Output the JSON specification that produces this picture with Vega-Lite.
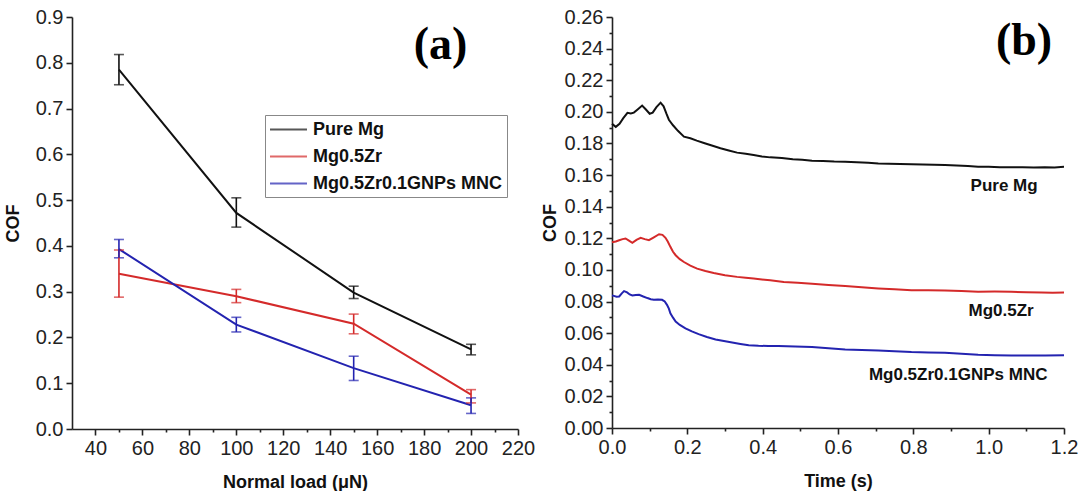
{
  "$schema": "https://vega.github.io/schema/vega-lite/v6.json",
  "background": "white",
  "padding": {"left": 4, "top": 7, "right": 0, "bottom": 0},
  "spacing": 6,
  "align": "none",
  "bounds": "full",
  "config": {
    "view": {"stroke": null},
    "axis": {
      "labelFont": "Liberation Sans", "labelFontSize": 20, "labelColor": "#222", "labelFlush": false,
      "titleFont": "Liberation Sans", "titleFontSize": 18, "titleFontWeight": "bold", "titleColor": "#111",
      "domainColor": "#222", "domainWidth": 1.6, "tickColor": "#222", "tickWidth": 1.6,
      "labelPadding": 3, "grid": false
    }
  },
  "datasets": {
    "loads": [
      {"series": "Pure Mg", "load": 50, "cof": 0.785, "lo": 0.752, "hi": 0.818},
      {"series": "Pure Mg", "load": 100, "cof": 0.472, "lo": 0.441, "hi": 0.505},
      {"series": "Pure Mg", "load": 150, "cof": 0.298, "lo": 0.285, "hi": 0.312},
      {"series": "Pure Mg", "load": 200, "cof": 0.174, "lo": 0.162, "hi": 0.185},
      {"series": "Mg0.5Zr", "load": 50, "cof": 0.339, "lo": 0.288, "hi": 0.391},
      {"series": "Mg0.5Zr", "load": 100, "cof": 0.290, "lo": 0.276, "hi": 0.305},
      {"series": "Mg0.5Zr", "load": 150, "cof": 0.230, "lo": 0.208, "hi": 0.251},
      {"series": "Mg0.5Zr", "load": 200, "cof": 0.075, "lo": 0.057, "hi": 0.086},
      {"series": "Mg0.5Zr0.1GNPs MNC", "load": 50, "cof": 0.393, "lo": 0.374, "hi": 0.414},
      {"series": "Mg0.5Zr0.1GNPs MNC", "load": 100, "cof": 0.228, "lo": 0.212, "hi": 0.244},
      {"series": "Mg0.5Zr0.1GNPs MNC", "load": 150, "cof": 0.133, "lo": 0.106, "hi": 0.159},
      {"series": "Mg0.5Zr0.1GNPs MNC", "load": 200, "cof": 0.052, "lo": 0.034, "hi": 0.068}
    ],
    "time": [
      {"s": "Pure Mg", "t": 0.000, "v": 0.1925}, {"s": "Pure Mg", "t": 0.010, "v": 0.1905}, {"s": "Pure Mg", "t": 0.020, "v": 0.1925},
      {"s": "Pure Mg", "t": 0.030, "v": 0.1960}, {"s": "Pure Mg", "t": 0.041, "v": 0.1994}, {"s": "Pure Mg", "t": 0.050, "v": 0.1990},
      {"s": "Pure Mg", "t": 0.058, "v": 0.1995}, {"s": "Pure Mg", "t": 0.068, "v": 0.2015}, {"s": "Pure Mg", "t": 0.080, "v": 0.2040},
      {"s": "Pure Mg", "t": 0.090, "v": 0.2015}, {"s": "Pure Mg", "t": 0.100, "v": 0.1988}, {"s": "Pure Mg", "t": 0.108, "v": 0.1995},
      {"s": "Pure Mg", "t": 0.118, "v": 0.2030}, {"s": "Pure Mg", "t": 0.129, "v": 0.2058}, {"s": "Pure Mg", "t": 0.137, "v": 0.2035},
      {"s": "Pure Mg", "t": 0.145, "v": 0.1985}, {"s": "Pure Mg", "t": 0.151, "v": 0.1950}, {"s": "Pure Mg", "t": 0.162, "v": 0.1915},
      {"s": "Pure Mg", "t": 0.175, "v": 0.1880}, {"s": "Pure Mg", "t": 0.191, "v": 0.1843}, {"s": "Pure Mg", "t": 0.208, "v": 0.1833},
      {"s": "Pure Mg", "t": 0.225, "v": 0.1818}, {"s": "Pure Mg", "t": 0.244, "v": 0.1803}, {"s": "Pure Mg", "t": 0.265, "v": 0.1787},
      {"s": "Pure Mg", "t": 0.288, "v": 0.1770}, {"s": "Pure Mg", "t": 0.310, "v": 0.1756}, {"s": "Pure Mg", "t": 0.332, "v": 0.1742},
      {"s": "Pure Mg", "t": 0.355, "v": 0.1735}, {"s": "Pure Mg", "t": 0.376, "v": 0.1727}, {"s": "Pure Mg", "t": 0.398, "v": 0.1718},
      {"s": "Pure Mg", "t": 0.420, "v": 0.1712}, {"s": "Pure Mg", "t": 0.451, "v": 0.1708}, {"s": "Pure Mg", "t": 0.480, "v": 0.1700},
      {"s": "Pure Mg", "t": 0.505, "v": 0.1697}, {"s": "Pure Mg", "t": 0.531, "v": 0.1690}, {"s": "Pure Mg", "t": 0.560, "v": 0.1689},
      {"s": "Pure Mg", "t": 0.590, "v": 0.1686}, {"s": "Pure Mg", "t": 0.619, "v": 0.1685}, {"s": "Pure Mg", "t": 0.650, "v": 0.1681},
      {"s": "Pure Mg", "t": 0.680, "v": 0.1678}, {"s": "Pure Mg", "t": 0.707, "v": 0.1674}, {"s": "Pure Mg", "t": 0.735, "v": 0.1672},
      {"s": "Pure Mg", "t": 0.765, "v": 0.1670}, {"s": "Pure Mg", "t": 0.795, "v": 0.1668}, {"s": "Pure Mg", "t": 0.825, "v": 0.1667},
      {"s": "Pure Mg", "t": 0.855, "v": 0.1665}, {"s": "Pure Mg", "t": 0.884, "v": 0.1664}, {"s": "Pure Mg", "t": 0.915, "v": 0.1660},
      {"s": "Pure Mg", "t": 0.945, "v": 0.1657}, {"s": "Pure Mg", "t": 0.972, "v": 0.1653}, {"s": "Pure Mg", "t": 1.000, "v": 0.1652},
      {"s": "Pure Mg", "t": 1.030, "v": 0.1650}, {"s": "Pure Mg", "t": 1.060, "v": 0.1649}, {"s": "Pure Mg", "t": 1.090, "v": 0.1650},
      {"s": "Pure Mg", "t": 1.120, "v": 0.1648}, {"s": "Pure Mg", "t": 1.149, "v": 0.1649}, {"s": "Pure Mg", "t": 1.175, "v": 0.1648},
      {"s": "Pure Mg", "t": 1.200, "v": 0.1652},
      {"s": "Mg0.5Zr", "t": 0.000, "v": 0.1175}, {"s": "Mg0.5Zr", "t": 0.010, "v": 0.1180}, {"s": "Mg0.5Zr", "t": 0.019, "v": 0.1188},
      {"s": "Mg0.5Zr", "t": 0.028, "v": 0.1195}, {"s": "Mg0.5Zr", "t": 0.036, "v": 0.1199}, {"s": "Mg0.5Zr", "t": 0.045, "v": 0.1185},
      {"s": "Mg0.5Zr", "t": 0.054, "v": 0.1171}, {"s": "Mg0.5Zr", "t": 0.065, "v": 0.1190}, {"s": "Mg0.5Zr", "t": 0.076, "v": 0.1203},
      {"s": "Mg0.5Zr", "t": 0.087, "v": 0.1195}, {"s": "Mg0.5Zr", "t": 0.098, "v": 0.1188}, {"s": "Mg0.5Zr", "t": 0.110, "v": 0.1205},
      {"s": "Mg0.5Zr", "t": 0.125, "v": 0.1226}, {"s": "Mg0.5Zr", "t": 0.134, "v": 0.1222}, {"s": "Mg0.5Zr", "t": 0.142, "v": 0.1203},
      {"s": "Mg0.5Zr", "t": 0.148, "v": 0.1180}, {"s": "Mg0.5Zr", "t": 0.155, "v": 0.1146}, {"s": "Mg0.5Zr", "t": 0.162, "v": 0.1115},
      {"s": "Mg0.5Zr", "t": 0.169, "v": 0.1093}, {"s": "Mg0.5Zr", "t": 0.180, "v": 0.1068}, {"s": "Mg0.5Zr", "t": 0.191, "v": 0.1050},
      {"s": "Mg0.5Zr", "t": 0.208, "v": 0.1027}, {"s": "Mg0.5Zr", "t": 0.226, "v": 0.1008}, {"s": "Mg0.5Zr", "t": 0.248, "v": 0.0993},
      {"s": "Mg0.5Zr", "t": 0.270, "v": 0.0980}, {"s": "Mg0.5Zr", "t": 0.300, "v": 0.0967}, {"s": "Mg0.5Zr", "t": 0.332, "v": 0.0956},
      {"s": "Mg0.5Zr", "t": 0.355, "v": 0.0950}, {"s": "Mg0.5Zr", "t": 0.376, "v": 0.0945}, {"s": "Mg0.5Zr", "t": 0.398, "v": 0.0939},
      {"s": "Mg0.5Zr", "t": 0.420, "v": 0.0934}, {"s": "Mg0.5Zr", "t": 0.456, "v": 0.0924}, {"s": "Mg0.5Zr", "t": 0.493, "v": 0.0919},
      {"s": "Mg0.5Zr", "t": 0.531, "v": 0.0913}, {"s": "Mg0.5Zr", "t": 0.575, "v": 0.0905}, {"s": "Mg0.5Zr", "t": 0.619, "v": 0.0898},
      {"s": "Mg0.5Zr", "t": 0.663, "v": 0.0890}, {"s": "Mg0.5Zr", "t": 0.707, "v": 0.0883}, {"s": "Mg0.5Zr", "t": 0.750, "v": 0.0878},
      {"s": "Mg0.5Zr", "t": 0.795, "v": 0.0872}, {"s": "Mg0.5Zr", "t": 0.840, "v": 0.0871}, {"s": "Mg0.5Zr", "t": 0.884, "v": 0.0870},
      {"s": "Mg0.5Zr", "t": 0.928, "v": 0.0866}, {"s": "Mg0.5Zr", "t": 0.972, "v": 0.0862}, {"s": "Mg0.5Zr", "t": 1.016, "v": 0.0863},
      {"s": "Mg0.5Zr", "t": 1.060, "v": 0.0862}, {"s": "Mg0.5Zr", "t": 1.100, "v": 0.0859}, {"s": "Mg0.5Zr", "t": 1.140, "v": 0.0857},
      {"s": "Mg0.5Zr", "t": 1.170, "v": 0.0856}, {"s": "Mg0.5Zr", "t": 1.200, "v": 0.0857},
      {"s": "Mg0.5Zr0.1GNPs MNC", "t": 0.000, "v": 0.0838}, {"s": "Mg0.5Zr0.1GNPs MNC", "t": 0.005, "v": 0.0836}, {"s": "Mg0.5Zr0.1GNPs MNC", "t": 0.012, "v": 0.0830},
      {"s": "Mg0.5Zr0.1GNPs MNC", "t": 0.019, "v": 0.0832}, {"s": "Mg0.5Zr0.1GNPs MNC", "t": 0.026, "v": 0.0852}, {"s": "Mg0.5Zr0.1GNPs MNC", "t": 0.032, "v": 0.0866},
      {"s": "Mg0.5Zr0.1GNPs MNC", "t": 0.040, "v": 0.0858}, {"s": "Mg0.5Zr0.1GNPs MNC", "t": 0.047, "v": 0.0845}, {"s": "Mg0.5Zr0.1GNPs MNC", "t": 0.054, "v": 0.0838},
      {"s": "Mg0.5Zr0.1GNPs MNC", "t": 0.063, "v": 0.0842}, {"s": "Mg0.5Zr0.1GNPs MNC", "t": 0.072, "v": 0.0843}, {"s": "Mg0.5Zr0.1GNPs MNC", "t": 0.083, "v": 0.0832},
      {"s": "Mg0.5Zr0.1GNPs MNC", "t": 0.094, "v": 0.0822}, {"s": "Mg0.5Zr0.1GNPs MNC", "t": 0.103, "v": 0.0815}, {"s": "Mg0.5Zr0.1GNPs MNC", "t": 0.111, "v": 0.0811},
      {"s": "Mg0.5Zr0.1GNPs MNC", "t": 0.122, "v": 0.0813}, {"s": "Mg0.5Zr0.1GNPs MNC", "t": 0.133, "v": 0.0811}, {"s": "Mg0.5Zr0.1GNPs MNC", "t": 0.140, "v": 0.0800},
      {"s": "Mg0.5Zr0.1GNPs MNC", "t": 0.146, "v": 0.0779}, {"s": "Mg0.5Zr0.1GNPs MNC", "t": 0.151, "v": 0.0755}, {"s": "Mg0.5Zr0.1GNPs MNC", "t": 0.155, "v": 0.0726},
      {"s": "Mg0.5Zr0.1GNPs MNC", "t": 0.162, "v": 0.0698}, {"s": "Mg0.5Zr0.1GNPs MNC", "t": 0.169, "v": 0.0673}, {"s": "Mg0.5Zr0.1GNPs MNC", "t": 0.180, "v": 0.0652},
      {"s": "Mg0.5Zr0.1GNPs MNC", "t": 0.195, "v": 0.0630}, {"s": "Mg0.5Zr0.1GNPs MNC", "t": 0.212, "v": 0.0611}, {"s": "Mg0.5Zr0.1GNPs MNC", "t": 0.230, "v": 0.0594},
      {"s": "Mg0.5Zr0.1GNPs MNC", "t": 0.252, "v": 0.0576}, {"s": "Mg0.5Zr0.1GNPs MNC", "t": 0.275, "v": 0.0560}, {"s": "Mg0.5Zr0.1GNPs MNC", "t": 0.297, "v": 0.0550},
      {"s": "Mg0.5Zr0.1GNPs MNC", "t": 0.319, "v": 0.0541}, {"s": "Mg0.5Zr0.1GNPs MNC", "t": 0.341, "v": 0.0532}, {"s": "Mg0.5Zr0.1GNPs MNC", "t": 0.363, "v": 0.0524},
      {"s": "Mg0.5Zr0.1GNPs MNC", "t": 0.389, "v": 0.0520}, {"s": "Mg0.5Zr0.1GNPs MNC", "t": 0.415, "v": 0.0519}, {"s": "Mg0.5Zr0.1GNPs MNC", "t": 0.442, "v": 0.0518},
      {"s": "Mg0.5Zr0.1GNPs MNC", "t": 0.486, "v": 0.0515}, {"s": "Mg0.5Zr0.1GNPs MNC", "t": 0.531, "v": 0.0512}, {"s": "Mg0.5Zr0.1GNPs MNC", "t": 0.575, "v": 0.0505},
      {"s": "Mg0.5Zr0.1GNPs MNC", "t": 0.619, "v": 0.0497}, {"s": "Mg0.5Zr0.1GNPs MNC", "t": 0.663, "v": 0.0494}, {"s": "Mg0.5Zr0.1GNPs MNC", "t": 0.707, "v": 0.0490},
      {"s": "Mg0.5Zr0.1GNPs MNC", "t": 0.750, "v": 0.0485}, {"s": "Mg0.5Zr0.1GNPs MNC", "t": 0.795, "v": 0.0480}, {"s": "Mg0.5Zr0.1GNPs MNC", "t": 0.840, "v": 0.0478},
      {"s": "Mg0.5Zr0.1GNPs MNC", "t": 0.884, "v": 0.0476}, {"s": "Mg0.5Zr0.1GNPs MNC", "t": 0.928, "v": 0.0470}, {"s": "Mg0.5Zr0.1GNPs MNC", "t": 0.972, "v": 0.0463},
      {"s": "Mg0.5Zr0.1GNPs MNC", "t": 1.016, "v": 0.0461}, {"s": "Mg0.5Zr0.1GNPs MNC", "t": 1.060, "v": 0.0459}, {"s": "Mg0.5Zr0.1GNPs MNC", "t": 1.100, "v": 0.0459},
      {"s": "Mg0.5Zr0.1GNPs MNC", "t": 1.150, "v": 0.0458}, {"s": "Mg0.5Zr0.1GNPs MNC", "t": 1.200, "v": 0.0460}
    ]
  },
  "hconcat": [
    {
      "width": 446,
      "height": 412,
      "data": {"name": "loads"},
      "encoding": {
        "x": {"field": "load", "type": "quantitative",
          "scale": {"domain": [30, 220], "nice": false, "zero": false},
          "axis": {"title": "Normal load (μN)", "titlePadding": 15,
            "values": [40, 50, 60, 70, 80, 90, 100, 110, 120, 130, 140, 150, 160, 170, 180, 190, 200, 210, 220],
            "labelExpr": "datum.value % 20 == 0 ? datum.label : ''",
            "tickSize": {"condition": {"test": "datum.value % 20 == 0", "value": 6}, "value": 3}}}
      },
      "layer": [
        {
          "mark": {"type": "line", "strokeWidth": 2},
          "encoding": {
            "y": {"field": "cof", "type": "quantitative",
              "scale": {"domain": [0, 0.9], "nice": false},
              "axis": {"title": "COF", "titlePadding": 13,
                "values": [0, 0.05, 0.1, 0.15, 0.2, 0.25, 0.3, 0.35, 0.4, 0.45, 0.5, 0.55, 0.6, 0.65, 0.7, 0.75, 0.8, 0.85, 0.9],
                "labelExpr": "round(datum.value * 20) % 2 == 0 ? format(datum.value, '.1f') : ''",
                "tickSize": {"condition": {"test": "round(datum.value * 20) % 2 == 0", "value": 6}, "value": 3}}},
            "color": {"field": "series", "type": "nominal",
              "scale": {"domain": ["Pure Mg", "Mg0.5Zr", "Mg0.5Zr0.1GNPs MNC"], "range": ["#111111", "#d42a2a", "#2323b0"]},
              "legend": {"orient": "none", "legendX": 193, "legendY": 98, "title": null,
                "symbolType": "M-2,0H2", "symbolSize": 342, "symbolStrokeWidth": 2, "symbolOffset": 9,
                "labelOffset": 14, "labelLimit": 500, "labelFont": "Liberation Sans", "labelFontSize": 18, "labelFontWeight": "bold",
                "labelColor": "#111", "strokeColor": "#888", "fillColor": "white", "padding": 4, "rowPadding": 7}}
          }
        },
        {
          "mark": {"type": "errorbar", "ticks": {"size": 10}, "thickness": 1.6},
          "encoding": {
            "y": {"field": "lo", "type": "quantitative", "axis": {"title": "COF"}},
            "y2": {"field": "hi"},
            "color": {"field": "series", "type": "nominal"}
          }
        },
        {
          "data": {"values": [{"label": "(a)", "load": 187, "cof": 0.839}]},
          "mark": {"type": "text", "font": "Liberation Serif", "fontWeight": "bold", "fontSize": 46, "color": "#000"},
          "encoding": {
            "y": {"field": "cof", "type": "quantitative", "axis": {"title": "COF"}},
            "text": {"field": "label"}
          }
        }
      ]
    },
    {
      "width": 452,
      "height": 411,
      "encoding": {
        "x": {"field": "t", "type": "quantitative",
          "scale": {"domain": [0, 1.2], "nice": false},
          "axis": {"title": "Time (s)", "titlePadding": 15,
            "values": [0, 0.1, 0.2, 0.3, 0.4, 0.5, 0.6, 0.7, 0.8, 0.9, 1.0, 1.1, 1.2],
            "labelExpr": "round(datum.value * 10) % 2 == 0 ? format(datum.value, '.1f') : ''",
            "tickSize": {"condition": {"test": "round(datum.value * 10) % 2 == 0", "value": 6}, "value": 3}}},
        "y": {"field": "v", "type": "quantitative",
          "scale": {"domain": [0, 0.26], "nice": false},
          "axis": {"title": "COF", "titlePadding": 5,
            "values": [0, 0.01, 0.02, 0.03, 0.04, 0.05, 0.06, 0.07, 0.08, 0.09, 0.1, 0.11, 0.12, 0.13, 0.14, 0.15, 0.16, 0.17, 0.18, 0.19, 0.2, 0.21, 0.22, 0.23, 0.24, 0.25, 0.26],
            "labelExpr": "round(datum.value * 100) % 2 == 0 ? format(datum.value, '.2f') : ''",
            "tickSize": {"condition": {"test": "round(datum.value * 100) % 2 == 0", "value": 6}, "value": 3}}}
      },
      "layer": [
        {
          "data": {"name": "time"},
          "mark": {"type": "line", "strokeWidth": 2},
          "encoding": {
            "color": {"field": "s", "type": "nominal",
              "scale": {"domain": ["Pure Mg", "Mg0.5Zr", "Mg0.5Zr0.1GNPs MNC"], "range": ["#111111", "#d42a2a", "#2323b0"]},
              "legend": null}
          }
        },
        {
          "data": {"values": [
            {"label": "Pure Mg", "t": 1.041, "v": 0.153},
            {"label": "Mg0.5Zr", "t": 1.033, "v": 0.074},
            {"label": "Mg0.5Zr0.1GNPs MNC", "t": 0.919, "v": 0.0333}
          ]},
          "mark": {"type": "text", "font": "Liberation Sans", "fontWeight": "bold", "fontSize": 17, "color": "#111"},
          "encoding": {"text": {"field": "label"}}
        },
        {
          "data": {"values": [{"label": "(b)", "t": 1.094, "v": 0.245}]},
          "mark": {"type": "text", "font": "Liberation Serif", "fontWeight": "bold", "fontSize": 46, "color": "#000"},
          "encoding": {"text": {"field": "label"}}
        }
      ]
    }
  ],
  "resolve": {"scale": {"color": "independent"}, "legend": {"color": "independent"}}
}
